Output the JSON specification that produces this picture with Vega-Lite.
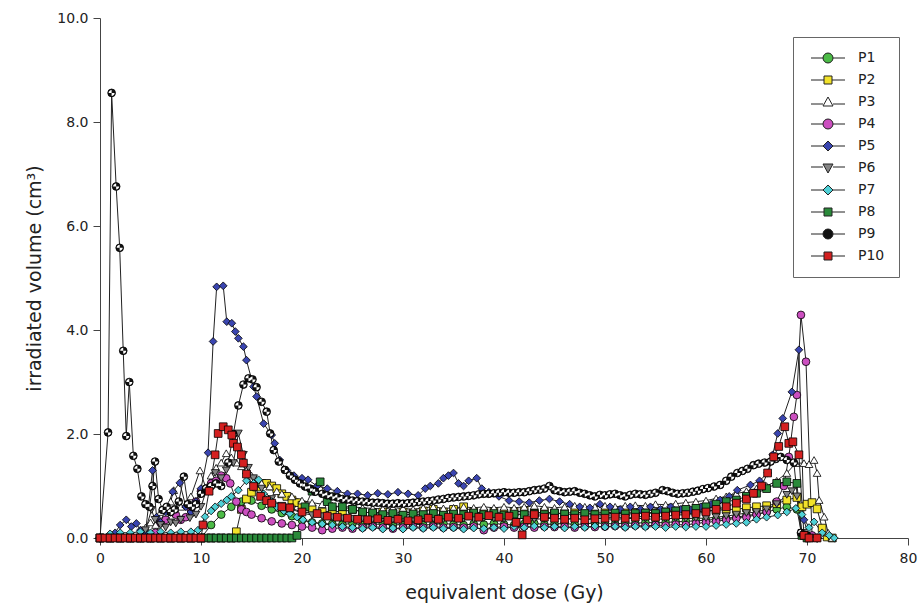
{"$schema":"https://vega.github.io/schema/vega-lite/v6.json","width":808,"height":520,"autosize":"none","padding":{"left":100,"top":18,"right":14,"bottom":75},
"config":{"view":{"stroke":null},"font":"DejaVu Sans","axis":{"grid":false,"domainColor":"#444","tickColor":"#444","labelFont":"DejaVu Sans","labelFontSize":14,"labelColor":"#222","titleFont":"DejaVu Sans","titleFontSize":19,"titleFontWeight":"normal","titleColor":"#222","tickSize":7,"labelFlush":false},"legend":{"labelFont":"DejaVu Sans","labelFontSize":14,"labelColor":"#222","symbolStrokeColor":"#000","symbolStrokeWidth":0.9}},
"data":{"values":[
{"s":"P1","x":0,"y":0},{"s":"P1","x":1,"y":0},{"s":"P1","x":2,"y":0},{"s":"P1","x":3,"y":0},{"s":"P1","x":4,"y":0},{"s":"P1","x":5,"y":0},{"s":"P1","x":6,"y":0},{"s":"P1","x":7,"y":0},{"s":"P1","x":8,"y":0},{"s":"P1","x":9,"y":0},{"s":"P1","x":10,"y":0},{"s":"P1","x":11,"y":0.25},{"s":"P1","x":12,"y":0.45},{"s":"P1","x":13,"y":0.6},{"s":"P1","x":14,"y":0.7},{"s":"P1","x":15,"y":0.72},{"s":"P1","x":16,"y":0.62},{"s":"P1","x":17,"y":0.55},{"s":"P1","x":18,"y":0.48},{"s":"P1","x":19,"y":0.42},{"s":"P1","x":20,"y":0.34},{"s":"P1","x":21,"y":0.3},{"s":"P1","x":22,"y":0.28},{"s":"P1","x":23,"y":0.27},{"s":"P1","x":24,"y":0.26},{"s":"P1","x":25,"y":0.28},{"s":"P1","x":26,"y":0.25},{"s":"P1","x":27,"y":0.26},{"s":"P1","x":28,"y":0.27},{"s":"P1","x":29,"y":0.25},{"s":"P1","x":30,"y":0.26},{"s":"P1","x":31,"y":0.27},{"s":"P1","x":32,"y":0.25},{"s":"P1","x":33,"y":0.26},{"s":"P1","x":34,"y":0.28},{"s":"P1","x":35,"y":0.26},{"s":"P1","x":36,"y":0.25},{"s":"P1","x":37,"y":0.27},{"s":"P1","x":38,"y":0.26},{"s":"P1","x":39,"y":0.28},{"s":"P1","x":40,"y":0.26},{"s":"P1","x":41,"y":0.25},{"s":"P1","x":42,"y":0.27},{"s":"P1","x":43,"y":0.28},{"s":"P1","x":44,"y":0.26},{"s":"P1","x":45,"y":0.27},{"s":"P1","x":46,"y":0.28},{"s":"P1","x":47,"y":0.26},{"s":"P1","x":48,"y":0.27},{"s":"P1","x":49,"y":0.29},{"s":"P1","x":50,"y":0.28},{"s":"P1","x":51,"y":0.27},{"s":"P1","x":52,"y":0.29},{"s":"P1","x":53,"y":0.28},{"s":"P1","x":54,"y":0.3},{"s":"P1","x":55,"y":0.29},{"s":"P1","x":56,"y":0.3},{"s":"P1","x":57,"y":0.31},{"s":"P1","x":58,"y":0.32},{"s":"P1","x":59,"y":0.33},{"s":"P1","x":60,"y":0.34},{"s":"P1","x":61,"y":0.36},{"s":"P1","x":62,"y":0.38},{"s":"P1","x":63,"y":0.4},{"s":"P1","x":64,"y":0.43},{"s":"P1","x":65,"y":0.46},{"s":"P1","x":66,"y":0.5},{"s":"P1","x":67,"y":0.55},{"s":"P1","x":68,"y":0.6},{"s":"P1","x":69,"y":0.55},{"s":"P1","x":69.5,"y":0.05},{"s":"P1","x":70,"y":0},{"s":"P1","x":71,"y":0},
{"s":"P2","x":0,"y":0},{"s":"P2","x":1,"y":0},{"s":"P2","x":2,"y":0},{"s":"P2","x":3,"y":0},{"s":"P2","x":4,"y":0},{"s":"P2","x":5,"y":0},{"s":"P2","x":6,"y":0},{"s":"P2","x":7,"y":0},{"s":"P2","x":8,"y":0},{"s":"P2","x":9,"y":0},{"s":"P2","x":10,"y":0},{"s":"P2","x":11,"y":0},{"s":"P2","x":12,"y":0},{"s":"P2","x":13,"y":0},{"s":"P2","x":13.5,"y":0.12},{"s":"P2","x":14,"y":0.55},{"s":"P2","x":14.5,"y":0.75},{"s":"P2","x":15,"y":0.88},{"s":"P2","x":15.5,"y":0.98},{"s":"P2","x":16,"y":1.05},{"s":"P2","x":16.5,"y":1.05},{"s":"P2","x":17,"y":1.0},{"s":"P2","x":17.5,"y":0.95},{"s":"P2","x":18,"y":0.85},{"s":"P2","x":18.5,"y":0.8},{"s":"P2","x":19,"y":0.73},{"s":"P2","x":19.5,"y":0.68},{"s":"P2","x":20,"y":0.63},{"s":"P2","x":21,"y":0.56},{"s":"P2","x":22,"y":0.5},{"s":"P2","x":23,"y":0.52},{"s":"P2","x":24,"y":0.5},{"s":"P2","x":25,"y":0.55},{"s":"P2","x":26,"y":0.5},{"s":"P2","x":27,"y":0.48},{"s":"P2","x":28,"y":0.5},{"s":"P2","x":29,"y":0.47},{"s":"P2","x":30,"y":0.5},{"s":"P2","x":31,"y":0.48},{"s":"P2","x":32,"y":0.52},{"s":"P2","x":33,"y":0.55},{"s":"P2","x":34,"y":0.5},{"s":"P2","x":35,"y":0.55},{"s":"P2","x":36,"y":0.6},{"s":"P2","x":37,"y":0.5},{"s":"P2","x":38,"y":0.48},{"s":"P2","x":39,"y":0.5},{"s":"P2","x":40,"y":0.47},{"s":"P2","x":41,"y":0.5},{"s":"P2","x":42,"y":0.52},{"s":"P2","x":43,"y":0.48},{"s":"P2","x":44,"y":0.5},{"s":"P2","x":45,"y":0.48},{"s":"P2","x":46,"y":0.47},{"s":"P2","x":47,"y":0.5},{"s":"P2","x":48,"y":0.48},{"s":"P2","x":49,"y":0.47},{"s":"P2","x":50,"y":0.5},{"s":"P2","x":51,"y":0.48},{"s":"P2","x":52,"y":0.5},{"s":"P2","x":53,"y":0.49},{"s":"P2","x":54,"y":0.5},{"s":"P2","x":55,"y":0.48},{"s":"P2","x":56,"y":0.5},{"s":"P2","x":57,"y":0.5},{"s":"P2","x":58,"y":0.52},{"s":"P2","x":59,"y":0.5},{"s":"P2","x":60,"y":0.52},{"s":"P2","x":61,"y":0.53},{"s":"P2","x":62,"y":0.55},{"s":"P2","x":63,"y":0.55},{"s":"P2","x":64,"y":0.58},{"s":"P2","x":65,"y":0.6},{"s":"P2","x":66,"y":0.62},{"s":"P2","x":67,"y":0.66},{"s":"P2","x":68,"y":0.73},{"s":"P2","x":69,"y":0.78},{"s":"P2","x":69.5,"y":0.6},{"s":"P2","x":70,"y":0.65},{"s":"P2","x":70.5,"y":0.68},{"s":"P2","x":71,"y":0.56},{"s":"P2","x":71.5,"y":0.19},{"s":"P2","x":72,"y":0.02},{"s":"P2","x":72.5,"y":0},
{"s":"P3","x":0,"y":0},{"s":"P3","x":1,"y":0},{"s":"P3","x":2,"y":0},{"s":"P3","x":3,"y":0},{"s":"P3","x":4,"y":0},{"s":"P3","x":4.5,"y":0.2},{"s":"P3","x":5,"y":0.3},{"s":"P3","x":5.5,"y":0.25},{"s":"P3","x":6,"y":0.5},{"s":"P3","x":6.5,"y":0.45},{"s":"P3","x":7,"y":0.7},{"s":"P3","x":7.3,"y":0.92},{"s":"P3","x":8,"y":0.6},{"s":"P3","x":8.5,"y":0.65},{"s":"P3","x":9,"y":0.8},{"s":"P3","x":9.9,"y":1.3},{"s":"P3","x":10.5,"y":0.95},{"s":"P3","x":11,"y":1.2},{"s":"P3","x":11.5,"y":1.35},{"s":"P3","x":12,"y":1.45},{"s":"P3","x":12.5,"y":1.63},{"s":"P3","x":13,"y":1.55},{"s":"P3","x":13.5,"y":1.45},{"s":"P3","x":14,"y":1.38},{"s":"P3","x":14.5,"y":1.3},{"s":"P3","x":15,"y":1.2},{"s":"P3","x":15.5,"y":1.12},{"s":"P3","x":16,"y":1.05},{"s":"P3","x":16.8,"y":0.99},{"s":"P3","x":17.5,"y":0.9},{"s":"P3","x":18,"y":0.85},{"s":"P3","x":19,"y":0.8},{"s":"P3","x":20,"y":0.72},{"s":"P3","x":21,"y":0.68},{"s":"P3","x":22,"y":0.65},{"s":"P3","x":23,"y":0.62},{"s":"P3","x":24,"y":0.6},{"s":"P3","x":25,"y":0.6},{"s":"P3","x":26,"y":0.58},{"s":"P3","x":27,"y":0.57},{"s":"P3","x":28,"y":0.56},{"s":"P3","x":29,"y":0.58},{"s":"P3","x":30,"y":0.57},{"s":"P3","x":31,"y":0.55},{"s":"P3","x":32,"y":0.58},{"s":"P3","x":33,"y":0.6},{"s":"P3","x":34,"y":0.57},{"s":"P3","x":35,"y":0.58},{"s":"P3","x":36,"y":0.6},{"s":"P3","x":37,"y":0.58},{"s":"P3","x":38,"y":0.6},{"s":"P3","x":39,"y":0.58},{"s":"P3","x":40,"y":0.6},{"s":"P3","x":41,"y":0.58},{"s":"P3","x":42,"y":0.6},{"s":"P3","x":43,"y":0.62},{"s":"P3","x":44,"y":0.6},{"s":"P3","x":45,"y":0.58},{"s":"P3","x":46,"y":0.6},{"s":"P3","x":47,"y":0.62},{"s":"P3","x":48,"y":0.6},{"s":"P3","x":49,"y":0.6},{"s":"P3","x":50,"y":0.62},{"s":"P3","x":51,"y":0.6},{"s":"P3","x":52,"y":0.62},{"s":"P3","x":53,"y":0.63},{"s":"P3","x":54,"y":0.62},{"s":"P3","x":55,"y":0.65},{"s":"P3","x":56,"y":0.64},{"s":"P3","x":57,"y":0.66},{"s":"P3","x":58,"y":0.68},{"s":"P3","x":59,"y":0.7},{"s":"P3","x":60,"y":0.72},{"s":"P3","x":61,"y":0.76},{"s":"P3","x":62,"y":0.8},{"s":"P3","x":63,"y":0.85},{"s":"P3","x":64,"y":0.9},{"s":"P3","x":65,"y":0.95},{"s":"P3","x":66,"y":1.0},{"s":"P3","x":67,"y":1.1},{"s":"P3","x":68,"y":1.25},{"s":"P3","x":68.9,"y":1.44},{"s":"P3","x":69.7,"y":1.44},{"s":"P3","x":70.2,"y":1.42},{"s":"P3","x":70.7,"y":1.5},{"s":"P3","x":71,"y":1.25},{"s":"P3","x":71.2,"y":0.73},{"s":"P3","x":71.7,"y":0.41},{"s":"P3","x":72.1,"y":0.1},{"s":"P3","x":72.5,"y":0},
{"s":"P4","x":0,"y":0},{"s":"P4","x":1,"y":0},{"s":"P4","x":2,"y":0},{"s":"P4","x":3,"y":0},{"s":"P4","x":4,"y":0},{"s":"P4","x":5,"y":0},{"s":"P4","x":5.5,"y":0.1},{"s":"P4","x":6,"y":0.3},{"s":"P4","x":6.5,"y":0.35},{"s":"P4","x":7,"y":0.5},{"s":"P4","x":7.5,"y":0.45},{"s":"P4","x":8,"y":0.35},{"s":"P4","x":8.5,"y":0.4},{"s":"P4","x":9,"y":0.55},{"s":"P4","x":9.5,"y":0.7},{"s":"P4","x":10,"y":0.9},{"s":"P4","x":10.5,"y":0.95},{"s":"P4","x":11,"y":1.05},{"s":"P4","x":11.5,"y":1.1},{"s":"P4","x":12,"y":1.2},{"s":"P4","x":12.5,"y":1.15},{"s":"P4","x":12.9,"y":1.05},{"s":"P4","x":13.5,"y":0.7},{"s":"P4","x":14,"y":0.55},{"s":"P4","x":14.5,"y":0.5},{"s":"P4","x":15,"y":0.45},{"s":"P4","x":16,"y":0.38},{"s":"P4","x":17,"y":0.32},{"s":"P4","x":18,"y":0.28},{"s":"P4","x":19,"y":0.25},{"s":"P4","x":20,"y":0.22},{"s":"P4","x":21,"y":0.2},{"s":"P4","x":22,"y":0.15},{"s":"P4","x":23,"y":0.18},{"s":"P4","x":24,"y":0.2},{"s":"P4","x":25,"y":0.18},{"s":"P4","x":26,"y":0.2},{"s":"P4","x":27,"y":0.22},{"s":"P4","x":28,"y":0.2},{"s":"P4","x":29,"y":0.18},{"s":"P4","x":30,"y":0.2},{"s":"P4","x":31,"y":0.22},{"s":"P4","x":32,"y":0.2},{"s":"P4","x":33,"y":0.22},{"s":"P4","x":34,"y":0.2},{"s":"P4","x":35,"y":0.21},{"s":"P4","x":36,"y":0.2},{"s":"P4","x":37,"y":0.22},{"s":"P4","x":38,"y":0.15},{"s":"P4","x":39,"y":0.2},{"s":"P4","x":40,"y":0.22},{"s":"P4","x":41,"y":0.2},{"s":"P4","x":42,"y":0.22},{"s":"P4","x":43,"y":0.2},{"s":"P4","x":44,"y":0.22},{"s":"P4","x":45,"y":0.21},{"s":"P4","x":46,"y":0.22},{"s":"P4","x":47,"y":0.2},{"s":"P4","x":48,"y":0.22},{"s":"P4","x":49,"y":0.21},{"s":"P4","x":50,"y":0.22},{"s":"P4","x":51,"y":0.23},{"s":"P4","x":52,"y":0.22},{"s":"P4","x":53,"y":0.24},{"s":"P4","x":54,"y":0.23},{"s":"P4","x":55,"y":0.25},{"s":"P4","x":56,"y":0.24},{"s":"P4","x":57,"y":0.26},{"s":"P4","x":58,"y":0.25},{"s":"P4","x":59,"y":0.28},{"s":"P4","x":60,"y":0.3},{"s":"P4","x":61,"y":0.32},{"s":"P4","x":62,"y":0.35},{"s":"P4","x":63,"y":0.38},{"s":"P4","x":64,"y":0.4},{"s":"P4","x":65,"y":0.45},{"s":"P4","x":66,"y":0.5},{"s":"P4","x":67,"y":0.7},{"s":"P4","x":67.7,"y":1.0},{"s":"P4","x":68.2,"y":1.56},{"s":"P4","x":68.7,"y":2.33},{"s":"P4","x":69,"y":2.75},{"s":"P4","x":69.4,"y":4.29},{"s":"P4","x":69.9,"y":3.39},{"s":"P4","x":70.5,"y":0.05},{"s":"P4","x":71,"y":0},
{"s":"P5","x":0,"y":0},{"s":"P5","x":1,"y":0},{"s":"P5","x":1.5,"y":0.1},{"s":"P5","x":2,"y":0.25},{"s":"P5","x":2.6,"y":0.35},{"s":"P5","x":3.1,"y":0.22},{"s":"P5","x":3.6,"y":0.28},{"s":"P5","x":4,"y":0.15},{"s":"P5","x":4.5,"y":0.1},{"s":"P5","x":5.2,"y":1.3},{"s":"P5","x":5.6,"y":0.4},{"s":"P5","x":6,"y":0.3},{"s":"P5","x":6.5,"y":0.5},{"s":"P5","x":7.2,"y":0.89},{"s":"P5","x":7.9,"y":1.06},{"s":"P5","x":8.5,"y":0.6},{"s":"P5","x":9,"y":0.5},{"s":"P5","x":9.5,"y":0.7},{"s":"P5","x":10,"y":0.95},{"s":"P5","x":10.7,"y":1.64},{"s":"P5","x":11.2,"y":3.78},{"s":"P5","x":11.55,"y":4.83},{"s":"P5","x":12.2,"y":4.85},{"s":"P5","x":12.55,"y":4.16},{"s":"P5","x":13.05,"y":4.13},{"s":"P5","x":13.4,"y":3.97},{"s":"P5","x":13.7,"y":3.84},{"s":"P5","x":14.2,"y":3.68},{"s":"P5","x":14.5,"y":3.42},{"s":"P5","x":15.2,"y":2.91},{"s":"P5","x":15.5,"y":2.72},{"s":"P5","x":16.2,"y":2.2},{"s":"P5","x":17,"y":1.98},{"s":"P5","x":17.3,"y":1.82},{"s":"P5","x":17.8,"y":1.5},{"s":"P5","x":18.5,"y":1.3},{"s":"P5","x":19.2,"y":1.2},{"s":"P5","x":20,"y":1.15},{"s":"P5","x":20.6,"y":1.12},{"s":"P5","x":21.5,"y":1.0},{"s":"P5","x":22.5,"y":0.95},{"s":"P5","x":23.5,"y":0.9},{"s":"P5","x":24.5,"y":0.85},{"s":"P5","x":25.5,"y":0.85},{"s":"P5","x":26.5,"y":0.82},{"s":"P5","x":27.5,"y":0.86},{"s":"P5","x":28.5,"y":0.84},{"s":"P5","x":29.5,"y":0.88},{"s":"P5","x":30.5,"y":0.85},{"s":"P5","x":31.5,"y":0.82},{"s":"P5","x":32.2,"y":0.95},{"s":"P5","x":32.7,"y":1.0},{"s":"P5","x":33.5,"y":1.05},{"s":"P5","x":34,"y":1.15},{"s":"P5","x":34.5,"y":1.2},{"s":"P5","x":35,"y":1.25},{"s":"P5","x":35.5,"y":1.05},{"s":"P5","x":36,"y":1.0},{"s":"P5","x":36.5,"y":1.1},{"s":"P5","x":37.3,"y":1.15},{"s":"P5","x":37.8,"y":0.95},{"s":"P5","x":38.5,"y":0.88},{"s":"P5","x":39.5,"y":0.8},{"s":"P5","x":40.5,"y":0.72},{"s":"P5","x":41.5,"y":0.7},{"s":"P5","x":42.5,"y":0.68},{"s":"P5","x":43.5,"y":0.72},{"s":"P5","x":44.5,"y":0.75},{"s":"P5","x":45.5,"y":0.7},{"s":"P5","x":46.5,"y":0.65},{"s":"P5","x":47.5,"y":0.6},{"s":"P5","x":48.5,"y":0.58},{"s":"P5","x":49.5,"y":0.65},{"s":"P5","x":50.5,"y":0.6},{"s":"P5","x":51.5,"y":0.55},{"s":"P5","x":52.5,"y":0.6},{"s":"P5","x":53.5,"y":0.55},{"s":"P5","x":54.5,"y":0.6},{"s":"P5","x":55.5,"y":0.55},{"s":"P5","x":56.5,"y":0.6},{"s":"P5","x":57.5,"y":0.55},{"s":"P5","x":58.5,"y":0.54},{"s":"P5","x":59.5,"y":0.6},{"s":"P5","x":60.5,"y":0.65},{"s":"P5","x":61.4,"y":0.73},{"s":"P5","x":62.3,"y":0.8},{"s":"P5","x":63.1,"y":0.92},{"s":"P5","x":64.4,"y":1.02},{"s":"P5","x":65.3,"y":1.1},{"s":"P5","x":66.1,"y":1.25},{"s":"P5","x":66.6,"y":1.6},{"s":"P5","x":67.1,"y":2.01},{"s":"P5","x":67.6,"y":2.3},{"s":"P5","x":68.5,"y":2.81},{"s":"P5","x":69.2,"y":3.62},{"s":"P5","x":69.7,"y":0.35},{"s":"P5","x":70.2,"y":0},{"s":"P5","x":71,"y":0},
{"s":"P6","x":0,"y":0},{"s":"P6","x":1,"y":0},{"s":"P6","x":2,"y":0},{"s":"P6","x":3,"y":0},{"s":"P6","x":4,"y":0},{"s":"P6","x":4.5,"y":0.15},{"s":"P6","x":5.1,"y":0.54},{"s":"P6","x":5.45,"y":0.35},{"s":"P6","x":6,"y":0.25},{"s":"P6","x":6.5,"y":0.2},{"s":"P6","x":7,"y":0.3},{"s":"P6","x":7.5,"y":0.28},{"s":"P6","x":8,"y":0.35},{"s":"P6","x":8.9,"y":0.38},{"s":"P6","x":9.5,"y":0.45},{"s":"P6","x":10,"y":0.6},{"s":"P6","x":10.5,"y":0.9},{"s":"P6","x":11.4,"y":1.25},{"s":"P6","x":12,"y":1.15},{"s":"P6","x":12.5,"y":1.3},{"s":"P6","x":13.2,"y":1.44},{"s":"P6","x":13.7,"y":2.01},{"s":"P6","x":14.2,"y":1.6},{"s":"P6","x":14.7,"y":1.35},{"s":"P6","x":15.2,"y":1.15},{"s":"P6","x":16,"y":0.95},{"s":"P6","x":17,"y":0.75},{"s":"P6","x":18,"y":0.62},{"s":"P6","x":19,"y":0.55},{"s":"P6","x":20,"y":0.48},{"s":"P6","x":21,"y":0.44},{"s":"P6","x":22,"y":0.42},{"s":"P6","x":23,"y":0.4},{"s":"P6","x":24,"y":0.38},{"s":"P6","x":25,"y":0.37},{"s":"P6","x":26,"y":0.38},{"s":"P6","x":27,"y":0.36},{"s":"P6","x":28,"y":0.37},{"s":"P6","x":29,"y":0.35},{"s":"P6","x":30,"y":0.37},{"s":"P6","x":31,"y":0.36},{"s":"P6","x":32,"y":0.38},{"s":"P6","x":33,"y":0.37},{"s":"P6","x":34,"y":0.36},{"s":"P6","x":35,"y":0.38},{"s":"P6","x":36,"y":0.37},{"s":"P6","x":37,"y":0.36},{"s":"P6","x":38,"y":0.38},{"s":"P6","x":39,"y":0.37},{"s":"P6","x":40,"y":0.36},{"s":"P6","x":41,"y":0.37},{"s":"P6","x":42,"y":0.38},{"s":"P6","x":43,"y":0.36},{"s":"P6","x":44,"y":0.37},{"s":"P6","x":45,"y":0.38},{"s":"P6","x":46,"y":0.36},{"s":"P6","x":47,"y":0.37},{"s":"P6","x":48,"y":0.36},{"s":"P6","x":49,"y":0.38},{"s":"P6","x":50,"y":0.37},{"s":"P6","x":51,"y":0.36},{"s":"P6","x":52,"y":0.37},{"s":"P6","x":53,"y":0.38},{"s":"P6","x":54,"y":0.37},{"s":"P6","x":55,"y":0.36},{"s":"P6","x":56,"y":0.37},{"s":"P6","x":57,"y":0.38},{"s":"P6","x":58,"y":0.37},{"s":"P6","x":59,"y":0.38},{"s":"P6","x":60,"y":0.38},{"s":"P6","x":61,"y":0.4},{"s":"P6","x":62,"y":0.42},{"s":"P6","x":63,"y":0.45},{"s":"P6","x":64,"y":0.48},{"s":"P6","x":65,"y":0.5},{"s":"P6","x":66,"y":0.55},{"s":"P6","x":67,"y":0.65},{"s":"P6","x":68,"y":0.83},{"s":"P6","x":68.5,"y":0.9},{"s":"P6","x":69,"y":0.8},{"s":"P6","x":69.5,"y":0.1},{"s":"P6","x":70,"y":0},
{"s":"P7","x":0,"y":0},{"s":"P7","x":1,"y":0.08},{"s":"P7","x":2,"y":0.1},{"s":"P7","x":3,"y":0.1},{"s":"P7","x":4,"y":0.12},{"s":"P7","x":5,"y":0.1},{"s":"P7","x":6,"y":0.12},{"s":"P7","x":7,"y":0.1},{"s":"P7","x":8,"y":0.12},{"s":"P7","x":9,"y":0.12},{"s":"P7","x":9.7,"y":0.15},{"s":"P7","x":10.4,"y":0.41},{"s":"P7","x":11,"y":0.52},{"s":"P7","x":11.4,"y":0.6},{"s":"P7","x":12,"y":0.66},{"s":"P7","x":12.55,"y":0.73},{"s":"P7","x":13,"y":0.8},{"s":"P7","x":13.7,"y":0.92},{"s":"P7","x":14.5,"y":1.1},{"s":"P7","x":15.2,"y":1.05},{"s":"P7","x":15.7,"y":1.12},{"s":"P7","x":16.2,"y":0.85},{"s":"P7","x":17,"y":0.7},{"s":"P7","x":17.5,"y":0.6},{"s":"P7","x":18.2,"y":0.52},{"s":"P7","x":18.8,"y":0.47},{"s":"P7","x":19.5,"y":0.4},{"s":"P7","x":20.1,"y":0.35},{"s":"P7","x":21,"y":0.3},{"s":"P7","x":22,"y":0.27},{"s":"P7","x":23,"y":0.25},{"s":"P7","x":24,"y":0.22},{"s":"P7","x":25,"y":0.2},{"s":"P7","x":26,"y":0.18},{"s":"P7","x":27,"y":0.2},{"s":"P7","x":28,"y":0.17},{"s":"P7","x":29,"y":0.19},{"s":"P7","x":30,"y":0.17},{"s":"P7","x":31,"y":0.2},{"s":"P7","x":32,"y":0.18},{"s":"P7","x":33,"y":0.2},{"s":"P7","x":34,"y":0.18},{"s":"P7","x":35,"y":0.19},{"s":"P7","x":36,"y":0.17},{"s":"P7","x":37,"y":0.19},{"s":"P7","x":38,"y":0.18},{"s":"P7","x":39,"y":0.2},{"s":"P7","x":40,"y":0.18},{"s":"P7","x":41,"y":0.22},{"s":"P7","x":42,"y":0.2},{"s":"P7","x":43,"y":0.23},{"s":"P7","x":44,"y":0.2},{"s":"P7","x":45,"y":0.22},{"s":"P7","x":46,"y":0.19},{"s":"P7","x":47,"y":0.22},{"s":"P7","x":48,"y":0.2},{"s":"P7","x":49,"y":0.23},{"s":"P7","x":50,"y":0.21},{"s":"P7","x":51,"y":0.22},{"s":"P7","x":52,"y":0.2},{"s":"P7","x":53,"y":0.22},{"s":"P7","x":54,"y":0.21},{"s":"P7","x":55,"y":0.22},{"s":"P7","x":56,"y":0.2},{"s":"P7","x":57,"y":0.22},{"s":"P7","x":58,"y":0.21},{"s":"P7","x":59,"y":0.22},{"s":"P7","x":60,"y":0.22},{"s":"P7","x":61,"y":0.24},{"s":"P7","x":62,"y":0.26},{"s":"P7","x":63,"y":0.28},{"s":"P7","x":64,"y":0.3},{"s":"P7","x":65,"y":0.36},{"s":"P7","x":66,"y":0.4},{"s":"P7","x":67.1,"y":0.44},{"s":"P7","x":68,"y":0.5},{"s":"P7","x":68.9,"y":0.57},{"s":"P7","x":69.5,"y":0.45},{"s":"P7","x":70.2,"y":0.2},{"s":"P7","x":70.7,"y":0.31},{"s":"P7","x":71.5,"y":0.1},{"s":"P7","x":72.2,"y":0.05},{"s":"P7","x":72.7,"y":0},
{"s":"P8","x":0,"y":0},{"s":"P8","x":1,"y":0},{"s":"P8","x":2,"y":0},{"s":"P8","x":3,"y":0},{"s":"P8","x":4,"y":0},{"s":"P8","x":5,"y":0},{"s":"P8","x":6,"y":0},{"s":"P8","x":7,"y":0},{"s":"P8","x":8,"y":0},{"s":"P8","x":9,"y":0},{"s":"P8","x":10,"y":0},{"s":"P8","x":10.5,"y":0},{"s":"P8","x":11,"y":0},{"s":"P8","x":11.5,"y":0},{"s":"P8","x":12,"y":0},{"s":"P8","x":12.5,"y":0},{"s":"P8","x":13,"y":0},{"s":"P8","x":13.5,"y":0},{"s":"P8","x":14,"y":0},{"s":"P8","x":14.5,"y":0},{"s":"P8","x":15,"y":0},{"s":"P8","x":15.5,"y":0},{"s":"P8","x":16,"y":0},{"s":"P8","x":16.5,"y":0},{"s":"P8","x":17,"y":0},{"s":"P8","x":17.5,"y":0},{"s":"P8","x":18,"y":0},{"s":"P8","x":18.5,"y":0},{"s":"P8","x":19,"y":0},{"s":"P8","x":19.5,"y":0.05},{"s":"P8","x":20.3,"y":0.6},{"s":"P8","x":21,"y":0.9},{"s":"P8","x":21.8,"y":1.08},{"s":"P8","x":22.5,"y":0.7},{"s":"P8","x":23,"y":0.6},{"s":"P8","x":24,"y":0.6},{"s":"P8","x":25,"y":0.55},{"s":"P8","x":26,"y":0.5},{"s":"P8","x":27,"y":0.48},{"s":"P8","x":28,"y":0.45},{"s":"P8","x":29,"y":0.47},{"s":"P8","x":30,"y":0.44},{"s":"P8","x":31,"y":0.46},{"s":"P8","x":32,"y":0.45},{"s":"P8","x":33,"y":0.47},{"s":"P8","x":34,"y":0.44},{"s":"P8","x":35,"y":0.46},{"s":"P8","x":36,"y":0.45},{"s":"P8","x":37,"y":0.48},{"s":"P8","x":38,"y":0.45},{"s":"P8","x":39,"y":0.47},{"s":"P8","x":40,"y":0.44},{"s":"P8","x":41,"y":0.46},{"s":"P8","x":42,"y":0.45},{"s":"P8","x":43,"y":0.47},{"s":"P8","x":44,"y":0.45},{"s":"P8","x":45,"y":0.48},{"s":"P8","x":46,"y":0.46},{"s":"P8","x":47,"y":0.45},{"s":"P8","x":48,"y":0.47},{"s":"P8","x":49,"y":0.45},{"s":"P8","x":50,"y":0.46},{"s":"P8","x":51,"y":0.48},{"s":"P8","x":52,"y":0.46},{"s":"P8","x":53,"y":0.47},{"s":"P8","x":54,"y":0.48},{"s":"P8","x":55,"y":0.47},{"s":"P8","x":56,"y":0.5},{"s":"P8","x":57,"y":0.52},{"s":"P8","x":58,"y":0.55},{"s":"P8","x":59,"y":0.57},{"s":"P8","x":60,"y":0.6},{"s":"P8","x":61,"y":0.65},{"s":"P8","x":62,"y":0.7},{"s":"P8","x":63,"y":0.73},{"s":"P8","x":64,"y":0.8},{"s":"P8","x":65,"y":0.86},{"s":"P8","x":66,"y":0.95},{"s":"P8","x":67,"y":1.05},{"s":"P8","x":68,"y":1.08},{"s":"P8","x":69,"y":1.05},{"s":"P8","x":69.5,"y":0.05},{"s":"P8","x":70,"y":0},
{"s":"P9","x":0,"y":0},{"s":"P9","x":0.8,"y":2.03},{"s":"P9","x":1.15,"y":8.56},{"s":"P9","x":1.6,"y":6.76},{"s":"P9","x":1.95,"y":5.58},{"s":"P9","x":2.3,"y":3.6},{"s":"P9","x":2.6,"y":1.96},{"s":"P9","x":2.9,"y":3.0},{"s":"P9","x":3.3,"y":1.58},{"s":"P9","x":3.7,"y":1.33},{"s":"P9","x":4.1,"y":0.8},{"s":"P9","x":4.5,"y":0.65},{"s":"P9","x":4.9,"y":0.6},{"s":"P9","x":5.2,"y":1.0},{"s":"P9","x":5.45,"y":1.47},{"s":"P9","x":5.8,"y":0.75},{"s":"P9","x":6.2,"y":0.54},{"s":"P9","x":6.6,"y":0.6},{"s":"P9","x":7,"y":0.5},{"s":"P9","x":7.4,"y":0.55},{"s":"P9","x":7.8,"y":0.7},{"s":"P9","x":8.3,"y":1.18},{"s":"P9","x":8.7,"y":0.65},{"s":"P9","x":9.1,"y":0.6},{"s":"P9","x":9.5,"y":0.65},{"s":"P9","x":10,"y":0.85},{"s":"P9","x":10.5,"y":0.95},{"s":"P9","x":11,"y":1.0},{"s":"P9","x":11.5,"y":1.05},{"s":"P9","x":12,"y":1.0},{"s":"P9","x":12.7,"y":1.45},{"s":"P9","x":13.2,"y":2.0},{"s":"P9","x":13.7,"y":2.55},{"s":"P9","x":14.2,"y":2.95},{"s":"P9","x":14.7,"y":3.07},{"s":"P9","x":15.1,"y":3.05},{"s":"P9","x":15.5,"y":2.9},{"s":"P9","x":16,"y":2.62},{"s":"P9","x":16.5,"y":2.43},{"s":"P9","x":16.85,"y":2.01},{"s":"P9","x":17.2,"y":1.69},{"s":"P9","x":17.7,"y":1.47},{"s":"P9","x":18.3,"y":1.31},{"s":"P9","x":18.8,"y":1.2},{"s":"P9","x":19.3,"y":1.12},{"s":"P9","x":19.8,"y":1.05},{"s":"P9","x":20.3,"y":0.99},{"s":"P9","x":20.8,"y":0.95},{"s":"P9","x":21.3,"y":0.89},{"s":"P9","x":22,"y":0.85},{"s":"P9","x":22.5,"y":0.82},{"s":"P9","x":23,"y":0.8},{"s":"P9","x":23.5,"y":0.78},{"s":"P9","x":24,"y":0.75},{"s":"P9","x":24.5,"y":0.74},{"s":"P9","x":25,"y":0.72},{"s":"P9","x":25.5,"y":0.71},{"s":"P9","x":26,"y":0.7},{"s":"P9","x":26.5,"y":0.69},{"s":"P9","x":27,"y":0.68},{"s":"P9","x":27.5,"y":0.68},{"s":"P9","x":28,"y":0.67},{"s":"P9","x":28.5,"y":0.66},{"s":"P9","x":29,"y":0.66},{"s":"P9","x":29.5,"y":0.67},{"s":"P9","x":30,"y":0.66},{"s":"P9","x":30.5,"y":0.67},{"s":"P9","x":31,"y":0.68},{"s":"P9","x":31.5,"y":0.69},{"s":"P9","x":32,"y":0.7},{"s":"P9","x":32.5,"y":0.71},{"s":"P9","x":33,"y":0.72},{"s":"P9","x":33.5,"y":0.74},{"s":"P9","x":34,"y":0.75},{"s":"P9","x":34.5,"y":0.77},{"s":"P9","x":35,"y":0.78},{"s":"P9","x":35.5,"y":0.79},{"s":"P9","x":36,"y":0.8},{"s":"P9","x":36.5,"y":0.81},{"s":"P9","x":37,"y":0.82},{"s":"P9","x":37.5,"y":0.84},{"s":"P9","x":38,"y":0.85},{"s":"P9","x":38.5,"y":0.85},{"s":"P9","x":39,"y":0.86},{"s":"P9","x":39.5,"y":0.87},{"s":"P9","x":40,"y":0.88},{"s":"P9","x":40.5,"y":0.87},{"s":"P9","x":41,"y":0.87},{"s":"P9","x":41.5,"y":0.88},{"s":"P9","x":42,"y":0.88},{"s":"P9","x":42.5,"y":0.9},{"s":"P9","x":43,"y":0.92},{"s":"P9","x":43.5,"y":0.93},{"s":"P9","x":44,"y":0.95},{"s":"P9","x":44.5,"y":1.0},{"s":"P9","x":45,"y":0.92},{"s":"P9","x":45.5,"y":0.9},{"s":"P9","x":46,"y":0.88},{"s":"P9","x":46.5,"y":0.89},{"s":"P9","x":47,"y":0.9},{"s":"P9","x":47.5,"y":0.87},{"s":"P9","x":48,"y":0.85},{"s":"P9","x":48.5,"y":0.82},{"s":"P9","x":49,"y":0.8},{"s":"P9","x":49.5,"y":0.83},{"s":"P9","x":50,"y":0.82},{"s":"P9","x":50.5,"y":0.84},{"s":"P9","x":51,"y":0.85},{"s":"P9","x":51.5,"y":0.82},{"s":"P9","x":52,"y":0.8},{"s":"P9","x":52.5,"y":0.83},{"s":"P9","x":53,"y":0.85},{"s":"P9","x":53.5,"y":0.84},{"s":"P9","x":54,"y":0.83},{"s":"P9","x":54.5,"y":0.85},{"s":"P9","x":55,"y":0.87},{"s":"P9","x":55.7,"y":0.92},{"s":"P9","x":56.2,"y":0.9},{"s":"P9","x":56.7,"y":0.87},{"s":"P9","x":57.2,"y":0.85},{"s":"P9","x":57.7,"y":0.86},{"s":"P9","x":58.2,"y":0.87},{"s":"P9","x":58.7,"y":0.89},{"s":"P9","x":59.2,"y":0.91},{"s":"P9","x":59.7,"y":0.94},{"s":"P9","x":60.2,"y":0.96},{"s":"P9","x":60.8,"y":0.99},{"s":"P9","x":61.4,"y":1.02},{"s":"P9","x":62,"y":1.1},{"s":"P9","x":62.5,"y":1.18},{"s":"P9","x":63.1,"y":1.25},{"s":"P9","x":63.6,"y":1.29},{"s":"P9","x":64.1,"y":1.33},{"s":"P9","x":64.7,"y":1.4},{"s":"P9","x":65.2,"y":1.43},{"s":"P9","x":65.8,"y":1.45},{"s":"P9","x":66.4,"y":1.47},{"s":"P9","x":66.9,"y":1.52},{"s":"P9","x":67.4,"y":1.56},{"s":"P9","x":68,"y":1.5},{"s":"P9","x":68.7,"y":1.45},{"s":"P9","x":69.4,"y":0.1},{"s":"P9","x":70,"y":0.05},{"s":"P9","x":70.5,"y":0},{"s":"P9","x":71,"y":0},
{"s":"P10","x":0,"y":0},{"s":"P10","x":0.5,"y":0},{"s":"P10","x":1,"y":0},{"s":"P10","x":1.5,"y":0},{"s":"P10","x":2,"y":0},{"s":"P10","x":2.5,"y":0},{"s":"P10","x":3,"y":0},{"s":"P10","x":3.5,"y":0},{"s":"P10","x":4,"y":0},{"s":"P10","x":4.5,"y":0},{"s":"P10","x":5,"y":0},{"s":"P10","x":5.5,"y":0},{"s":"P10","x":6,"y":0},{"s":"P10","x":6.5,"y":0},{"s":"P10","x":7,"y":0},{"s":"P10","x":7.5,"y":0},{"s":"P10","x":8,"y":0},{"s":"P10","x":8.5,"y":0},{"s":"P10","x":9,"y":0},{"s":"P10","x":9.5,"y":0},{"s":"P10","x":10,"y":0},{"s":"P10","x":10.2,"y":0.25},{"s":"P10","x":10.8,"y":0.9},{"s":"P10","x":11.4,"y":1.6},{"s":"P10","x":11.7,"y":2.01},{"s":"P10","x":12.2,"y":2.14},{"s":"P10","x":12.7,"y":2.08},{"s":"P10","x":13.05,"y":1.98},{"s":"P10","x":13.2,"y":1.82},{"s":"P10","x":13.6,"y":1.75},{"s":"P10","x":14,"y":1.6},{"s":"P10","x":14.2,"y":1.44},{"s":"P10","x":14.5,"y":1.23},{"s":"P10","x":15.2,"y":0.99},{"s":"P10","x":15.9,"y":0.8},{"s":"P10","x":16.5,"y":0.72},{"s":"P10","x":17,"y":0.67},{"s":"P10","x":18,"y":0.6},{"s":"P10","x":18.8,"y":0.58},{"s":"P10","x":20,"y":0.5},{"s":"P10","x":21.5,"y":0.47},{"s":"P10","x":22.5,"y":0.42},{"s":"P10","x":23.5,"y":0.4},{"s":"P10","x":24.5,"y":0.38},{"s":"P10","x":25.5,"y":0.36},{"s":"P10","x":26.5,"y":0.35},{"s":"P10","x":27.5,"y":0.37},{"s":"P10","x":28.5,"y":0.34},{"s":"P10","x":29.5,"y":0.36},{"s":"P10","x":30.5,"y":0.33},{"s":"P10","x":31.5,"y":0.35},{"s":"P10","x":32.5,"y":0.38},{"s":"P10","x":33.5,"y":0.36},{"s":"P10","x":34.5,"y":0.4},{"s":"P10","x":35.5,"y":0.38},{"s":"P10","x":36.5,"y":0.42},{"s":"P10","x":37.5,"y":0.4},{"s":"P10","x":38.5,"y":0.43},{"s":"P10","x":39.5,"y":0.4},{"s":"P10","x":40.5,"y":0.42},{"s":"P10","x":41.2,"y":0.3},{"s":"P10","x":41.8,"y":0.06},{"s":"P10","x":42.3,"y":0.35},{"s":"P10","x":43,"y":0.45},{"s":"P10","x":44,"y":0.4},{"s":"P10","x":45,"y":0.38},{"s":"P10","x":46,"y":0.36},{"s":"P10","x":47,"y":0.38},{"s":"P10","x":48,"y":0.35},{"s":"P10","x":49,"y":0.37},{"s":"P10","x":50,"y":0.38},{"s":"P10","x":51,"y":0.4},{"s":"P10","x":52,"y":0.38},{"s":"P10","x":53,"y":0.4},{"s":"P10","x":54,"y":0.42},{"s":"P10","x":55,"y":0.4},{"s":"P10","x":56,"y":0.42},{"s":"P10","x":57,"y":0.44},{"s":"P10","x":58,"y":0.45},{"s":"P10","x":59,"y":0.47},{"s":"P10","x":60,"y":0.5},{"s":"P10","x":61,"y":0.55},{"s":"P10","x":62,"y":0.6},{"s":"P10","x":63,"y":0.67},{"s":"P10","x":64,"y":0.75},{"s":"P10","x":64.7,"y":0.86},{"s":"P10","x":65.5,"y":1.0},{"s":"P10","x":66.1,"y":1.25},{"s":"P10","x":66.7,"y":1.56},{"s":"P10","x":67.2,"y":1.76},{"s":"P10","x":67.8,"y":2.14},{"s":"P10","x":68.2,"y":1.82},{"s":"P10","x":68.6,"y":1.85},{"s":"P10","x":69.2,"y":1.6},{"s":"P10","x":69.7,"y":0.05},{"s":"P10","x":70.2,"y":0},{"s":"P10","x":71,"y":0}
]},
"encoding":{
"x":{"field":"x","type":"quantitative","scale":{"domain":[0,80],"nice":false,"zero":false},"axis":{"title":"equivalent dose (Gy)","values":[0,10,20,30,40,50,60,70,80],"format":"d","labelPadding":6,"titlePadding":18}},
"y":{"field":"y","type":"quantitative","scale":{"domain":[0,10],"nice":false},"axis":{"title":"irradiated volume (cm³)","values":[0,2,4,6,8,10],"format":".1f","labelPadding":5,"titlePadding":12}}},
"resolve":{"scale":{"color":"independent","shape":"independent"},"legend":{"color":"independent","shape":"independent"}},
"layer":[
{"mark":{"type":"line","color":"#222","strokeWidth":1},"encoding":{"detail":{"field":"s"}}},
{"transform":[{"filter":"datum.s !== 'P10'"}],"mark":{"type":"point","filled":true,"size":60,"stroke":"#000","strokeWidth":0.8,"opacity":1},
"encoding":{"color":{"field":"s","type":"nominal","scale":{"domain":["P1","P2","P3","P4","P5","P6","P7","P8","P9","P10"],"range":["#4cbb47","#f2e22a","#ffffff","#cc4fc0","#3a45b0","#858585","#4fd0d6","#2a8a3a","#111111","#d42020"]},"legend":null},
"shape":{"field":"s","type":"nominal","scale":{"domain":["P1","P2","P3","P4","P5","P6","P7","P8","P9","P10"],"range":["circle","square","triangle-up","circle","diamond","triangle-down","diamond","square","circle","square"]},"legend":null}}},
{"transform":[{"filter":"datum.s === 'P9'"}],"mark":{"type":"point","filled":true,"size":36,"color":"#ffffff","strokeWidth":0,"opacity":1,"shape":"M0,0L-1,0A1,1 0 0,1 0,-1Z M0,0L1,0A1,1 0 0,1 0,1Z"}},
{"transform":[{"filter":"datum.s === 'P10'"}],"mark":{"type":"point","filled":true,"size":60,"stroke":"#000","strokeWidth":0.8,"opacity":1},
"encoding":{"color":{"field":"s","type":"nominal","scale":{"domain":["P1","P2","P3","P4","P5","P6","P7","P8","P9","P10"],"range":["#4cbb47","#f2e22a","#ffffff","#cc4fc0","#3a45b0","#858585","#4fd0d6","#2a8a3a","#111111","#d42020"]},"legend":null},
"shape":{"field":"s","type":"nominal","scale":{"domain":["P1","P2","P3","P4","P5","P6","P7","P8","P9","P10"],"range":["circle","square","triangle-up","circle","diamond","triangle-down","diamond","square","circle","square"]},"legend":null}}},
{"transform":[{"filter":"false"}],"mark":{"type":"point","filled":true,"size":70,"stroke":"#000","strokeWidth":0.9,"opacity":1},
"encoding":{"color":{"field":"s","type":"nominal","scale":{"domain":["P1","P2","P3","P4","P5","P6","P7","P8","P9","P10"],"range":["#4cbb47","#f2e22a","#ffffff","#cc4fc0","#3a45b0","#858585","#4fd0d6","#2a8a3a","#111111","#d42020"]},"legend":{"title":null,"orient":"none","legendX":693,"legendY":19,"strokeColor":"#666","padding":14,"rowPadding":8,"symbolOffset":14,"labelOffset":23,"fillColor":"#fff","symbolStrokeColor":"#222","symbolStrokeWidth":1}},
"shape":{"field":"s","type":"nominal","scale":{"domain":["P1","P2","P3","P4","P5","P6","P7","P8","P9","P10"],"range":["M-3.4,0L-1,0M1,0L3.4,0M-1,0A1,1 0 1,0 1,0A1,1 0 1,0 -1,0Z","M-3.4,0L-0.8,0M0.8,0L3.4,0M-0.8,-0.8L0.8,-0.8L0.8,0.8L-0.8,0.8Z","M-3.4,0.4L-1,0.4M1,0.4L3.4,0.4M0,-1L1,0.8L-1,0.8Z","M-3.4,0L-1,0M1,0L3.4,0M-1,0A1,1 0 1,0 1,0A1,1 0 1,0 -1,0Z","M-3.4,0L-1,0M1,0L3.4,0M0,-1L1,0L0,1L-1,0Z","M-3.4,-0.2L-1,-0.2M1,-0.2L3.4,-0.2M0,1L1,-0.8L-1,-0.8Z","M-3.4,0L-1,0M1,0L3.4,0M0,-1L1,0L0,1L-1,0Z","M-3.4,0L-0.8,0M0.8,0L3.4,0M-0.8,-0.8L0.8,-0.8L0.8,0.8L-0.8,0.8Z","M-3.4,0L-1,0M1,0L3.4,0M-1,0A1,1 0 1,0 1,0A1,1 0 1,0 -1,0Z","M-3.4,0L-0.8,0M0.8,0L3.4,0M-0.8,-0.8L0.8,-0.8L0.8,0.8L-0.8,0.8Z"]}}}}
]}
